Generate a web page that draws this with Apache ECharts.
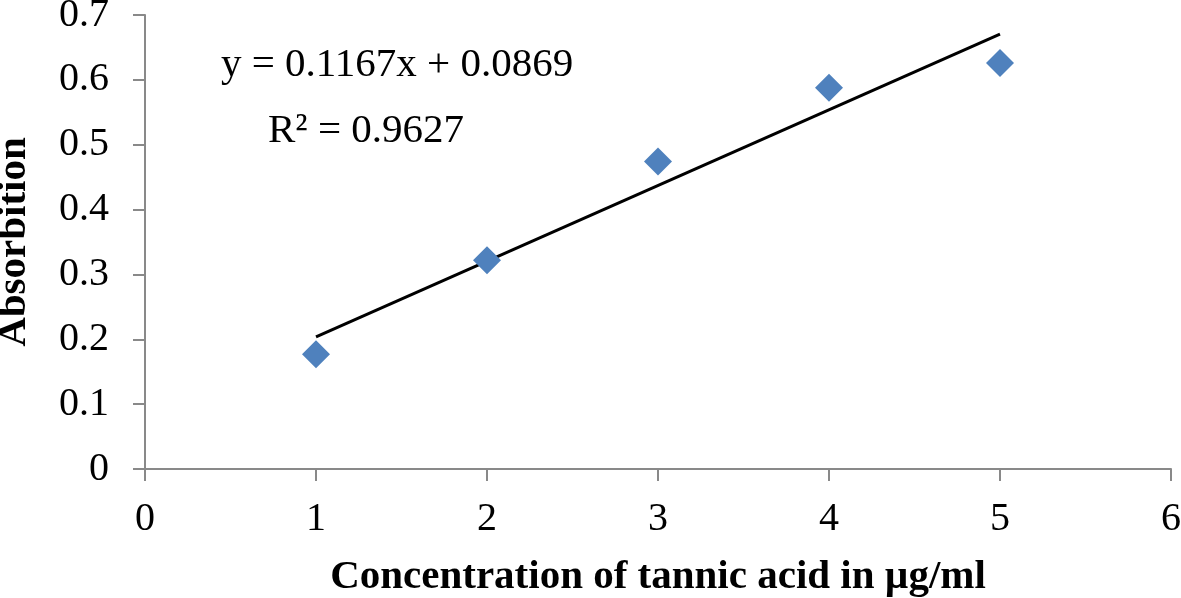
<!DOCTYPE html>
<html>
<head>
<meta charset="utf-8">
<script src="https://cdn.jsdelivr.net/npm/echarts@6/dist/echarts.min.js"></script>
<style>
  html, body { margin: 0; padding: 0; background: #fff; }
  #chart { width: 1181px; height: 598px; }
</style>
</head>
<body>
<div id="chart"></div>
<script>
// concentration (µg/ml) and measured absorbance
var concentration = [1, 2, 3, 4, 5];
var absorbance = [0.177, 0.322, 0.474, 0.588, 0.626];
// linear trendline as printed on the chart
var slope = 0.1167;
var intercept = 0.0869;
var trendX = [1, 5];
var xTicks = [0, 1, 2, 3, 4, 5, 6];
var yTicks = [0, 0.1, 0.2, 0.3, 0.4, 0.5, 0.6, 0.7];

var points = concentration.map(function (x, i) { return [x, absorbance[i]]; });
var trend = trendX.map(function (x) { return [x, +(slope * x + intercept).toFixed(4)]; });

var serif = '"Liberation Serif", "Times New Roman", serif';
var axisGray = '#898989';

var chart = echarts.init(document.getElementById('chart'));
chart.setOption({
  animation: false,
  backgroundColor: '#fff',
  grid: { left: 145, right: 10, top: 15, bottom: 129, containLabel: false, outerBoundsMode: 'none' },
  xAxis: {
    type: 'value',
    min: xTicks[0],
    max: xTicks[xTicks.length - 1],
    interval: 1,
    name: 'Concentration of tannic acid in µg/ml',
    nameLocation: 'middle',
    nameGap: 88,
    nameTextStyle: { fontFamily: serif, fontWeight: 'bold', fontSize: 41, color: '#000' },
    axisLine: { lineStyle: { color: axisGray, width: 2 } },
    axisTick: { length: 12, lineStyle: { color: axisGray, width: 2 } },
    axisLabel: { fontFamily: serif, fontSize: 40, color: '#000', margin: 30 },
    splitLine: { show: false }
  },
  yAxis: {
    type: 'value',
    min: yTicks[0],
    max: yTicks[yTicks.length - 1],
    interval: 0.1,
    name: 'Absorbition',
    nameLocation: 'middle',
    nameGap: 110,
    nameRotate: 90,
    nameTextStyle: { fontFamily: serif, fontWeight: 'bold', fontSize: 41, color: '#000' },
    axisLine: { show: true, lineStyle: { color: axisGray, width: 2 } },
    axisTick: { show: true, length: 12, lineStyle: { color: axisGray, width: 2 } },
    axisLabel: { fontFamily: serif, fontSize: 40, color: '#000', margin: 36,
      formatter: function (v) { return v === 0 ? '0' : v.toFixed(1); } },
    splitLine: { show: false }
  },
  graphic: [
    { type: 'text', left: 221, top: 45,
      style: { text: 'y = 0.1167x + 0.0869', font: '41px ' + serif, fill: '#000' } },
    { type: 'text', left: 268, top: 111,
      style: { text: 'R² = 0.9627', font: '41px ' + serif, fill: '#000' } }
  ],
  series: [
    {
      name: 'Trendline',
      type: 'line',
      data: trend,
      symbol: 'none',
      lineStyle: { color: '#000', width: 3 },
      z: 2
    },
    {
      name: 'Absorbance',
      type: 'scatter',
      data: points,
      symbol: 'diamond',
      symbolSize: [28, 28],
      itemStyle: { color: '#4F81BD', opacity: 1 },
      z: 3
    }
  ]
});
</script>
</body>
</html>
